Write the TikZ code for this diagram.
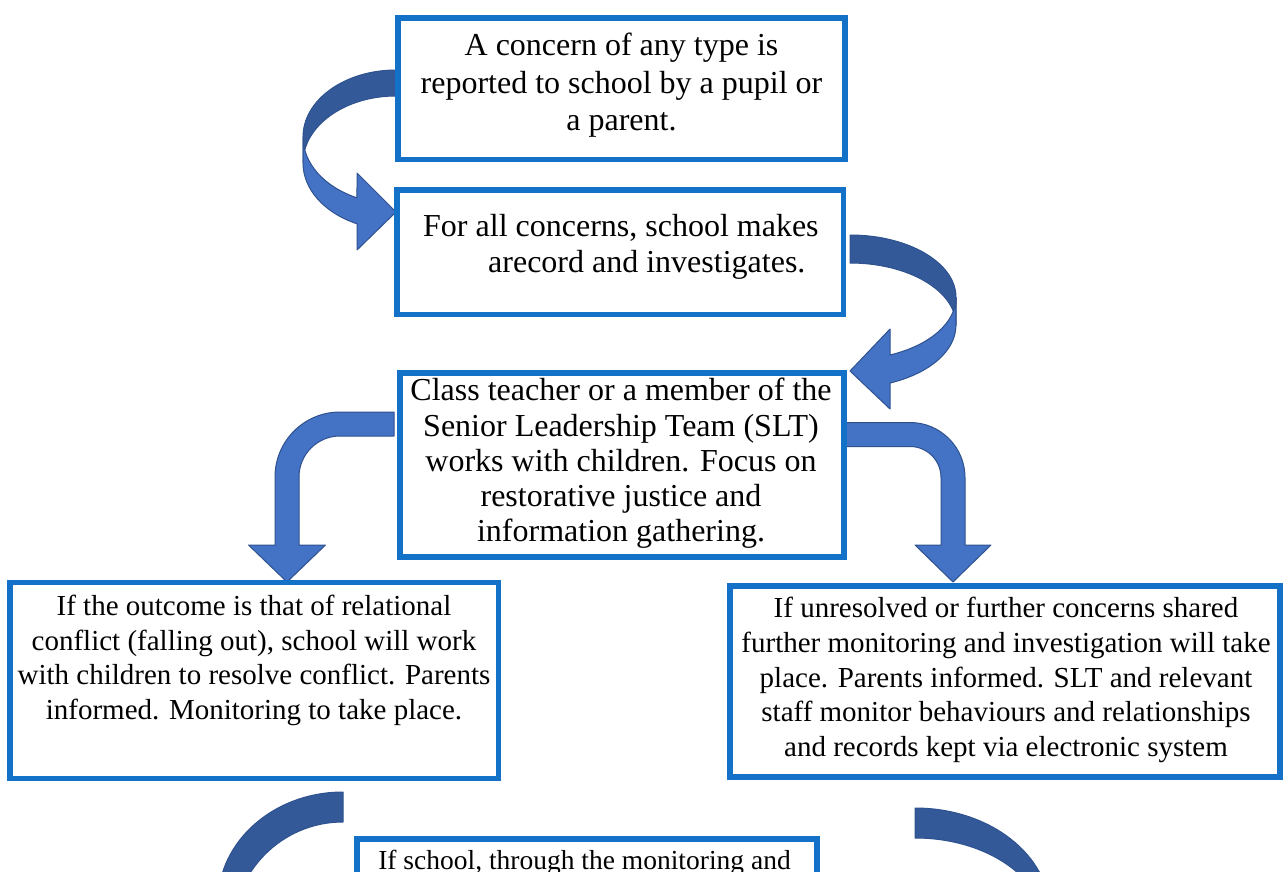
\documentclass[tikz,border=0pt]{standalone}
\usepackage{fontspec}
\setmainfont{Liberation Serif}
\definecolor{boxblue}{RGB}{19,113,199}
\definecolor{arrlight}{RGB}{68,114,196}
\definecolor{arrdark}{RGB}{51,89,153}
\definecolor{arredge}{RGB}{47,82,143}
\tikzset{
  box/.style={draw=boxblue, line width=5.5pt, inner sep=0pt, rectangle},
  bigtext/.style={inner sep=0pt, align=center},
  lightpart/.style={fill=arrlight, draw=arredge, line width=1pt, line join=round},
  darkpart/.style={fill=arrdark, draw=arredge, line width=1pt, line join=round},
}
\begin{document}
\begin{tikzpicture}[x=1pt,y=-1pt]
\path[use as bounding box, clip] (0,0) rectangle (1285,872);
\fill[white] (0,0) rectangle (1285,872);

% curved arrow A (box 1 -> box 2)
\path[darkpart] (396,70) arc[start angle=270, end angle=180, x radius=93, y radius=67]
  -- (303,163) arc[start angle=180, end angle=270, x radius=93, y radius=67] -- cycle;
\path[lightpart] (303,137) arc[start angle=180, end angle=114.8, x radius=93, y radius=67]
  -- (357,173) -- (396,212) -- (357,250) -- (357,223.8)
  arc[start angle=114.8, end angle=180, x radius=93, y radius=67] -- cycle;

% curved arrow B (box 2 -> box 3)
\path[darkpart] (850,235) arc[start angle=270, end angle=360, x radius=106, y radius=62.3]
  -- (956,325.3) arc[start angle=360, end angle=270, x radius=106, y radius=62.3] -- cycle;
\path[lightpart] (956,297.3) arc[start angle=0, end angle=67.8, x radius=106, y radius=62.3]
  -- (890,329) -- (850,371) -- (890,409) -- (890,383)
  arc[start angle=67.8, end angle=0, x radius=106, y radius=62.3] -- cycle;

% bent arrow C (box 3 -> box 4)
\path[lightpart] (394,412) -- (340,412) arc[start angle=270, end angle=180, radius=65]
  -- (275,545) -- (248.5,545) -- (287,582) -- (325.5,545) -- (299,545) -- (299,477)
  arc[start angle=180, end angle=270, radius=41] -- (394,436) -- cycle;

% bent arrow D (box 3 -> box 5)
\path[lightpart] (845,422.5) -- (910,422.5) arc[start angle=270, end angle=360, radius=55]
  -- (965,545) -- (991,545) -- (953,582) -- (915,545) -- (941,545) -- (941,477.5)
  arc[start angle=0, end angle=-90, radius=31] -- (845,446.5) -- cycle;

% bottom arcs (cut off)
\path[darkpart] (343,792) arc[start angle=270, end angle=180, x radius=125, y radius=110]
  -- (233,932) arc[start angle=180, end angle=270, x radius=110, y radius=110] -- cycle;
\path[darkpart] (915,808) arc[start angle=270, end angle=360, x radius=135, y radius=105]
  -- (1045,928) arc[start angle=0, end angle=-90, x radius=130, y radius=90] -- cycle;

% boxes
\node[box, minimum width=447pt, minimum height=141.5pt] (b1) at (621.5,88.75) {};
\node[box, minimum width=446.7pt, minimum height=124.5pt] (b2) at (620.35,252.25) {};
\node[box, minimum width=444pt, minimum height=184pt] (b3) at (622,465) {};
\node[box, minimum width=488.7pt, minimum height=195.6pt] (b4) at (254.35,680.5) {};
\node[box, minimum width=550pt, minimum height=191pt] (b5) at (1005,681.5) {};
\node[box, minimum width=460pt, minimum height=140pt] (b6) at (587,909) {};

% texts
\node[bigtext, font=\fontsize{32}{37.5}\selectfont] (t1) at (621.5,85.5)
  {A concern of any type is\\reported to school by a pupil or\\a parent.};
\node[inner sep=0pt, align=left, anchor=west, font=\fontsize{32}{36}\selectfont] (t2) at (423,247)
  {For all concerns, school makes\\\hspace*{65pt}arecord and investigates.};
\node[bigtext, font=\fontsize{32}{35.2}\selectfont] (t3) at (621,463.5)
  {Class teacher or a member of the\\Senior Leadership Team (SLT)\\works with children. Focus on\\restorative justice and\\information gathering.};
\node[bigtext, font=\fontsize{29}{34.8}\selectfont] (t4) at (254,660.5)
  {If the outcome is that of relational\\conflict (falling out), school will work\\with children to resolve conflict. Parents\\informed. Monitoring to take place.};
\node[bigtext, font=\fontsize{29}{34.6}\selectfont] (t5) at (1006,680)
  {If unresolved or further concerns shared\\further monitoring and investigation will take\\place. Parents informed. SLT and relevant\\staff monitor behaviours and relationships\\and records kept via electronic system};
\node[inner sep=0pt, anchor=base, font=\fontsize{27.5}{32}\selectfont] (t6) at (584.5,869)
  {If school, through the monitoring and};
\end{tikzpicture}
\end{document}
